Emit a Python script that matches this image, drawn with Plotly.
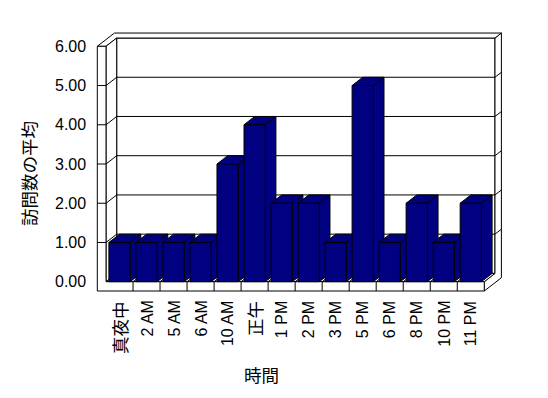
import plotly.graph_objects as go

# ---- data ----
categories = ["真夜中", "2 AM", "5 AM", "6 AM", "10 AM", "正午", "1 PM", "2 PM",
              "3 PM", "5 PM", "6 PM", "8 PM", "10 PM", "11 PM"]
avg_visits = [1, 1, 1, 1, 3, 4, 2, 2, 1, 5, 1, 2, 1, 2]
y_ticks = [0, 1, 2, 3, 4, 5, 6]
y_tick_labels = ["0.00", "1.00", "2.00", "3.00", "4.00", "5.00", "6.00"]
x_title = "時間"
y_title = "訪問数の平均"

# ---- layout geometry (pixels) ----
W, H = 548, 398
FX0 = 106.0          # left edge of front plane
CW = 27.02           # px per category
FY0 = 281.7          # px of value 0 on front plane
VH = 39.23           # px per value unit
DPX, DPY = 10.7, 8.3  # depth vector (px right, px up)
WALL_PX = 8.7        # left wall thickness
FLOOR_PX = 9.3       # floor thickness
BACK_T = 0.6         # back wall thickness in depth units
BAR_W = 0.785

n = len(categories)
DC = DPX / CW
DV = DPY / VH
F = FLOOR_PX / VH
LO = -0.5 - WALL_PX / CW
L, R = -0.5, n - 0.5
VMAX = 6

xr = [-0.5 - FX0 / CW, -0.5 + (W - FX0) / CW]
yr = [(FY0 - H) / VH, FY0 / VH]


def P(c, v, d):
    return c + d * DC, v + d * DV


fig = go.Figure()


def poly(pts, fill, close=True):
    xs, ys = [], []
    for c, v, d in pts:
        x, y = P(c, v, d)
        xs.append(x)
        ys.append(y)
    if close:
        xs.append(xs[0])
        ys.append(ys[0])
    fig.add_trace(go.Scatter(
        x=xs, y=ys, mode="lines",
        fill="toself" if fill else None,
        fillcolor=fill if fill else None,
        line=dict(color="black", width=1),
        hoverinfo="skip", showlegend=False))


WHITE = "white"
# back wall front face
poly([(L, 0, 1), (R, 0, 1), (R, VMAX, 1), (L, VMAX, 1)], WHITE)
# right side face (floor + back wall thickness)
poly([(R, 0, 0), (R, -F, 0), (R, -F, 1 + BACK_T), (R, VMAX, 1 + BACK_T),
      (R, VMAX, 1), (R, 0, 1)], WHITE)
# top faces (left wall + back wall)
poly([(LO, VMAX, 0), (L, VMAX, 0), (L, VMAX, 1), (R, VMAX, 1),
      (R, VMAX, 1 + BACK_T), (LO, VMAX, 1 + BACK_T)], WHITE)
# left wall inner face
poly([(L, 0, 0), (L, VMAX, 0), (L, VMAX, 1), (L, 0, 1)], WHITE)
# floor top
poly([(L, 0, 0), (R, 0, 0), (R, 0, 1), (L, 0, 1)], WHITE)
# front L-shape (left wall front + floor front)
poly([(LO, VMAX, 0), (L, VMAX, 0), (L, 0, 0), (R, 0, 0), (R, -F, 0),
      (LO, -F, 0)], WHITE)

# gridlines
for v in y_ticks[1:-1]:
    poly([(LO, v, 0), (L, v, 0), (L, v, 1), (R, v, 1), (R, v, 1 + BACK_T)],
         None, close=False)
# floor ticks
for k in range(1, n):
    b = k - 0.5
    poly([(b, -F, 0), (b, 0, 0), (b, 0, 1)], None, close=False)

# bars
NAVY = "#000080"
for i, h in enumerate(avg_visits):
    c0, c1 = i - BAR_W / 2, i + BAR_W / 2
    poly([(c1, 0, 0), (c1, h, 0), (c1, h, 1), (c1, 0, 1)], NAVY)
    poly([(c0, h, 0), (c1, h, 0), (c1, h, 1), (c0, h, 1)], NAVY)
    poly([(c0, 0, 0), (c1, 0, 0), (c1, h, 0), (c0, h, 0)], NAVY)

LAT = "Liberation Sans, Arial, Noto Sans CJK JP, sans-serif"
CJK = "Noto Sans CJK JP, sans-serif"

annotations = []
for v, t in zip(y_ticks, y_tick_labels):
    annotations.append(dict(
        x=LO, y=v, xref="x", yref="y", text=t, showarrow=False,
        xanchor="right", yanchor="middle", xshift=-11,
        font=dict(family=LAT, size=16, color="black"),
        borderpad=0, borderwidth=0))
for i, t in enumerate(categories):
    is_cjk = any(ord(ch) > 127 for ch in t)
    annotations.append(dict(
        x=i, y=-F, xref="x", yref="y", text=t, showarrow=False,
        textangle=-90, xanchor="center", yanchor="top", yshift=-10,
        font=dict(family=CJK if is_cjk else LAT, size=17.5 if is_cjk else 16,
                  color="black"),
        borderpad=0, borderwidth=0))
annotations.append(dict(
    x=261 / W, y=1 - 374 / H, xref="paper", yref="paper", text=x_title,
    showarrow=False, xanchor="center", yanchor="middle",
    font=dict(family=CJK, size=17.5, color="black")))
annotations.append(dict(
    x=28.5 / W, y=1 - 173.5 / H, xref="paper", yref="paper", text=y_title,
    showarrow=False, xanchor="center", yanchor="middle", textangle=-90,
    font=dict(family=CJK, size=17.5, color="black")))

fig.update_layout(
    width=W, height=H, autosize=False,
    margin=dict(l=0, r=0, t=0, b=0),
    paper_bgcolor="white", plot_bgcolor="white",
    xaxis=dict(range=xr, visible=False, fixedrange=True, domain=[0, 1]),
    yaxis=dict(range=yr, visible=False, fixedrange=True, domain=[0, 1]),
    annotations=annotations,
    showlegend=False,
)

fig.write_html("out.html")
